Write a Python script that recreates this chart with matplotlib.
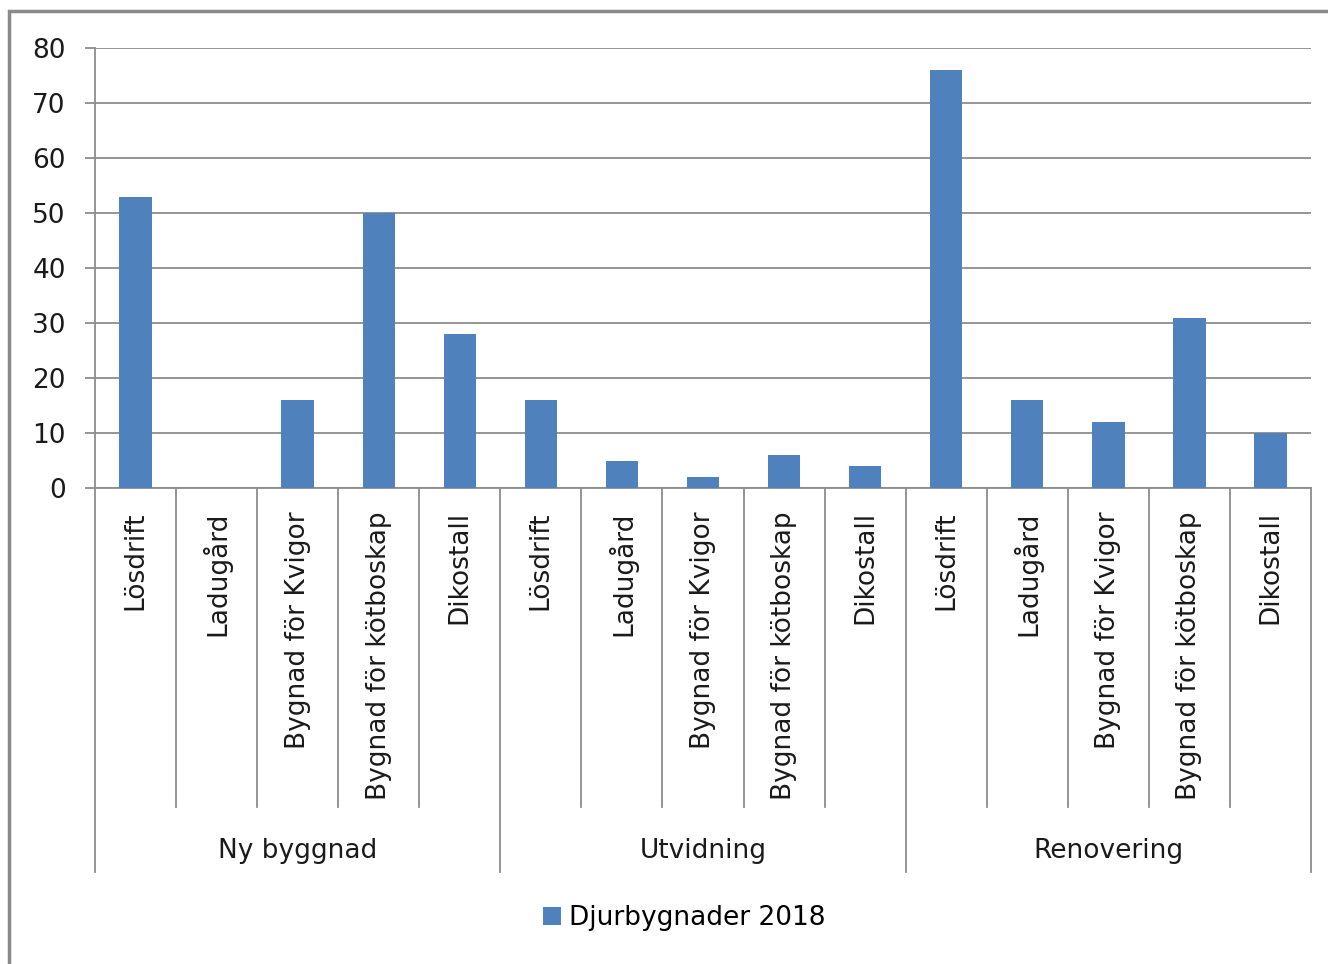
import matplotlib.pyplot as plt
from matplotlib.lines import Line2D
from matplotlib.patches import Rectangle

# data
groups = ['Ny byggnad', 'Utvidning', 'Renovering']
types = ['Lösdrift', 'Ladugård', 'Bygnad för Kvigor', 'Bygnad för kötboskap', 'Dikostall']
ny_byggnad = [53, 0, 16, 50, 28]
utvidning = [16, 5, 2, 6, 4]
renovering = [76, 16, 12, 31, 10]
series_name = 'Djurbygnader 2018'

values = ny_byggnad + utvidning + renovering
labels = types * len(groups)
x = list(range(len(values)))

plt.rcParams['font.family'] = ['DejaVu Sans']
grid_col = '#8c8c8c'
bar_col = '#4F81BD'
fs = 19

fig = plt.figure(figsize=(13.28, 9.64), dpi=100)
ax = fig.add_axes([95/1328, 1-488/964, (1311-95)/1328, 440/964])

bars = ax.bar(x, values, width=0.4, color=bar_col, label=series_name, zorder=3)
ax.set_xlim(-0.5, len(values)-0.5)
ax.set_ylim(0, 80)
ax.set_yticks(range(0, 81, 10))
ax.yaxis.grid(True, color=grid_col, linewidth=1.3)
ax.set_axisbelow(True)
ax.tick_params(axis='y', length=7, width=1.3, color=grid_col, pad=14, labelsize=fs, labelcolor='#1a1a1a')
ax.set_xticks([])
for s in ['top', 'right']:
    ax.spines[s].set_visible(False)
ax.spines['left'].set_color(grid_col)
ax.spines['left'].set_linewidth(1.3)
ax.spines['bottom'].set_color(grid_col)
ax.spines['bottom'].set_linewidth(1.3)

tr = ax.get_xaxis_transform()
# category labels
for i, lab in enumerate(labels):
    ax.text(i, -0.053, lab, rotation=90, ha='center', va='top', fontsize=fs, color='#1a1a1a', transform=tr)
# separators
for k in range(len(values)+1):
    b = k - 0.5
    low = -0.873 if k % len(types) == 0 else -0.725
    ax.add_line(Line2D([b, b], [0, low], transform=tr, color=grid_col, linewidth=1.3, clip_on=False))
# group labels
for g, name in enumerate(groups):
    ax.text(g*len(types) + 2, -0.825, name, ha='center', va='center', fontsize=fs, color='#1a1a1a', transform=tr)

fig.legend(handles=[bars], labels=[series_name], loc='center', bbox_to_anchor=(684/1328, 1-918/964),
           frameon=False, fontsize=fs, handlelength=0.7, handleheight=0.7, handletextpad=0.3)

# outer border
fig.patches.append(Rectangle((9/1328, -0.1), 1.2, 1-11/964+0.1, transform=fig.transFigure,
                             fill=False, edgecolor='#8a8a8a', linewidth=2.5))

fig.savefig('out.png', dpi=100)
